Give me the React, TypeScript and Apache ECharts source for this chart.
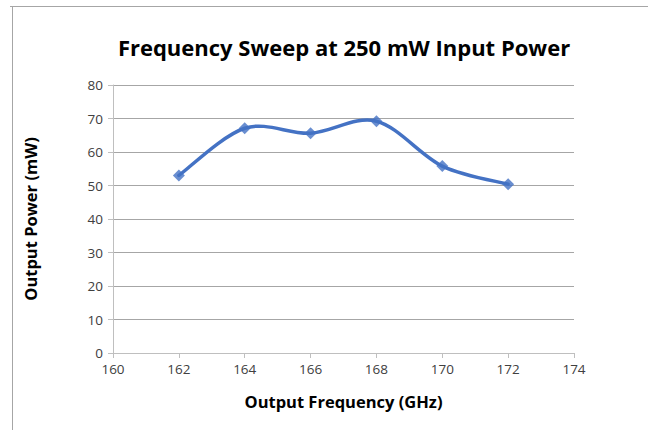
import React, { useEffect, useRef } from "react";
import * as echarts from "echarts";

const frequencies = [162, 164, 166, 168, 170, 172];
const outputPower = [53.0, 67.1, 65.6, 69.2, 55.8, 50.4];
const titleText = "Frequency Sweep at 250 mW Input Power";
const xAxisName = "Output Frequency (GHz)";
const yAxisName = "Output Power (mW)";

export default function App() {
  const ref = useRef<HTMLDivElement>(null);
  useEffect(() => {
    if (!ref.current) return;
    const chart = echarts.init(ref.current, null, { renderer: "svg" });
    const font = "'Open Sans', 'Liberation Sans', sans-serif";
    const points = frequencies.map((f, i) => [f, outputPower[i]]);

    const renderSmooth = (params: any, api: any) => {
      if (params.dataIndex !== 0) return null;
      const p = points.map((d) => api.coord(d));
      const n = p.length;
      let d = `M${p[0][0]},${p[0][1]}`;
      for (let i = 0; i < n - 1; i++) {
        const p0 = p[Math.max(i - 1, 0)];
        const p1 = p[i];
        const p2 = p[i + 1];
        const p3 = p[Math.min(i + 2, n - 1)];
        const c1x = p1[0] + (p2[0] - p0[0]) / 6;
        const c1y = p1[1] + (p2[1] - p0[1]) / 6;
        const c2x = p2[0] - (p3[0] - p1[0]) / 6;
        const c2y = p2[1] - (p3[1] - p1[1]) / 6;
        d += ` C${c1x},${c1y} ${c2x},${c2y} ${p2[0]},${p2[1]}`;
      }
      return {
        type: "path",
        shape: { pathData: d },
        style: { stroke: "#4472C4", lineWidth: 3.5, fill: "none", lineJoin: "round", lineCap: "round" },
      };
    };

    chart.setOption({
      animation: false,
      backgroundColor: "#ffffff",
      title: {
        text: titleText,
        left: 339,
        textAlign: "center",
        top: 31,
        textStyle: { fontFamily: font, fontWeight: "bold", fontSize: 22, color: "#000000" },
      },
      graphic: [
        { type: "line", shape: { x1: 10, y1: 6.5, x2: 648, y2: 6.5 }, style: { stroke: "#A6A6A6", lineWidth: 1 } },
        { type: "line", shape: { x1: 12.5, y1: 6, x2: 12.5, y2: 430 }, style: { stroke: "#A6A6A6", lineWidth: 1 } },
      ],
      grid: { left: 113, right: 74, top: 85, bottom: 77 },
      xAxis: {
        type: "value",
        min: 160,
        max: 174,
        interval: 2,
        name: xAxisName,
        nameLocation: "middle",
        nameGap: 40,
        nameTextStyle: { fontFamily: font, fontWeight: "bold", fontSize: 16.5, color: "#000000" },
        axisLine: { show: true, lineStyle: { color: "#BFBFBF", width: 1 } },
        axisTick: { show: true, length: 5, lineStyle: { color: "#BFBFBF" } },
        axisLabel: { fontFamily: font, fontSize: 13.5, color: "#404040", margin: 9 },
        splitLine: { show: false },
      },
      yAxis: {
        type: "value",
        min: 0,
        max: 80,
        interval: 10,
        name: yAxisName,
        nameLocation: "middle",
        nameGap: 74,
        nameTextStyle: { fontFamily: font, fontWeight: "bold", fontSize: 16.5, color: "#000000" },
        axisLine: { show: true, lineStyle: { color: "#BFBFBF", width: 1 } },
        axisTick: { show: true, length: 5, lineStyle: { color: "#BFBFBF" } },
        axisLabel: { fontFamily: font, fontSize: 13.5, color: "#404040", margin: 10 },
        splitLine: { show: true, lineStyle: { color: "#A6A6A6", width: 1 } },
      },
      series: [
        {
          type: "custom",
          renderItem: renderSmooth,
          data: points,
          z: 2,
        },
        {
          type: "scatter",
          data: points,
          symbol: "diamond",
          symbolSize: 12,
          itemStyle: { color: "#4472C4" },
          z: 3,
        },
      ],
    });
    return () => chart.dispose();
  }, []);
  return (
    <div
      ref={ref}
      style={{ position: "absolute", left: 0, top: 0, width: 648, height: 430 }}
    />
  );
}
